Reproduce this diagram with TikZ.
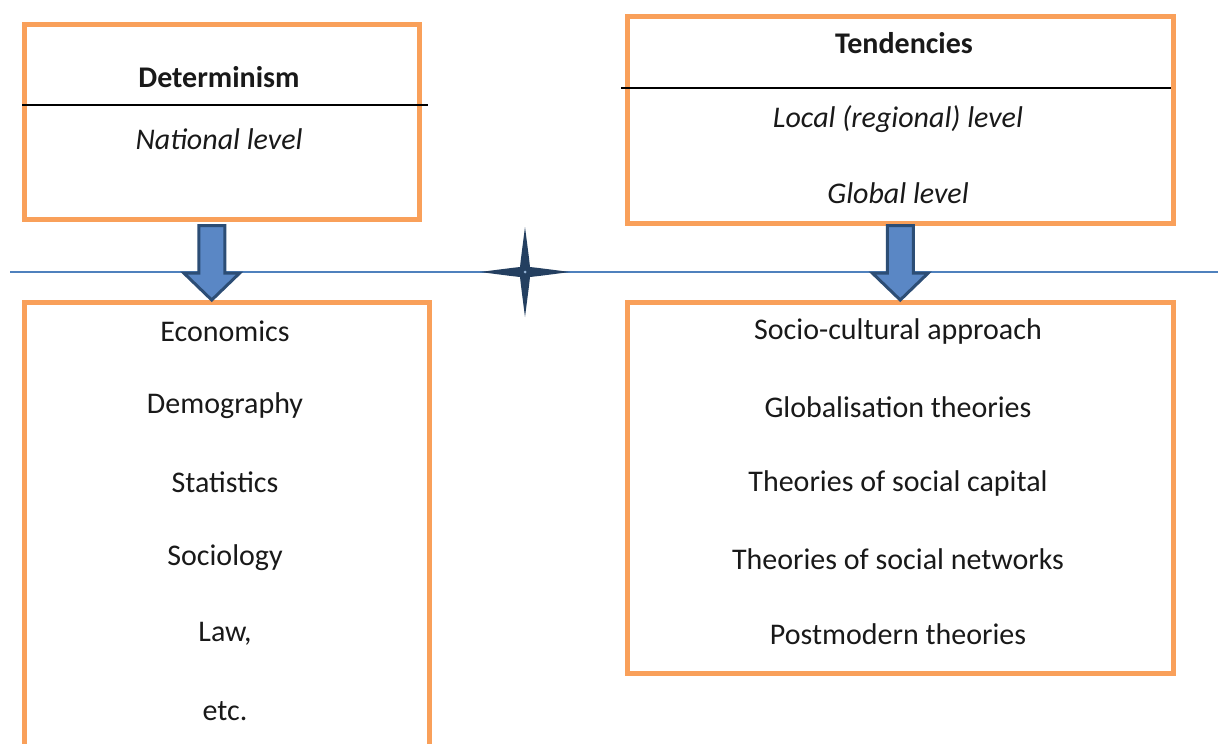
\documentclass[tikz,border=0pt]{standalone}
\usepackage{fontspec}
\setmainfont{Carlito}
\usepackage{xcolor}
\usetikzlibrary{calc}

\definecolor{boxorange}{HTML}{F9A05A}
\definecolor{arrowfill}{HTML}{5A87C5}
\definecolor{arrowedge}{HTML}{2C4D75}
\definecolor{lineblue}{HTML}{4F81BD}
\definecolor{starblue}{HTML}{243F60}

% block arrow pointing down, from #1 (top) to #2 (tip)
\newcommand{\downblock}[2]{%
  \draw[blockarrow] ($(#1)+(-13,0)$) -- ($(#2)+(-13,-27)$) -- ($(#2)+(-28,-27)$)
    -- (#2) -- ($(#2)+(28,-27)$) -- ($(#2)+(13,-27)$) -- ($(#1)+(13,0)$) -- cycle;}

\begin{document}
\begin{tikzpicture}[x=1pt,y=-1pt,
    frame/.style={draw=boxorange, line width=4.5pt, inner sep=0, anchor=north west},
    txt/.style={font=\fontsize{30}{36}\selectfont, inner sep=0, text=black!90},
    blockarrow/.style={fill=arrowfill, draw=arrowedge, line width=3pt, line join=miter}]
  \clip (0,0) rectangle (1218,744);

  % separating line
  \coordinate (lineL) at (10,272);
  \coordinate (lineR) at (1218,272);
  \draw[lineblue, line width=1.5pt] (lineL) -- (lineR);

  % upper boxes
  \node[frame, minimum width=395, minimum height=195] (det) at (22,22) {};
  \node[frame, minimum width=546, minimum height=207] (tend) at (625,14) {};
  \coordinate (detcutL) at (22,105);
  \coordinate (detcutR) at (428,105);
  \draw[line width=1.5pt] (detcutL) -- (detcutR);
  \coordinate (tendcutL) at (621,88);
  \coordinate (tendcutR) at (1171,88);
  \draw[line width=1.5pt] (tendcutL) -- (tendcutR);

  \node[txt, font=\fontsize{30}{36}\selectfont\bfseries] (detT) at (219,77) {Determinism};
  \node[txt, font=\fontsize{30}{36}\selectfont\itshape] (detL) at (219,139) {National level};
  \node[txt, font=\fontsize{30}{36}\selectfont\bfseries] (tendT) at (904,43) {Tendencies};
  \node[txt, font=\fontsize{30}{36}\selectfont\itshape] (tendL) at (898,119) {Local (regional) level};
  \node[txt, font=\fontsize{30}{36}\selectfont\itshape] (tendG) at (898,193) {Global level};

  % lower boxes
  \node[frame, minimum width=405, minimum height=470] (disc) at (22,300) {};
  \node[frame, minimum width=546, minimum height=371] (theo) at (625,300) {};

  \node[txt] (d1) at (225,331) {Economics};
  \node[txt] (d2) at (225,406) {Demography};
  \node[txt] (d3) at (225,482) {Statistics};
  \node[txt] (d4) at (225,558) {Sociology};
  \node[txt] (d5) at (225,634) {Law,};
  \node[txt] (d6) at (225,711) {etc.};

  \node[txt] (t1) at (898,331) {Socio-cultural approach};
  \node[txt] (t2) at (898,407) {Globalisation theories};
  \node[txt] (t3) at (898,483) {Theories of social capital};
  \node[txt] (t4) at (898,559) {Theories of social networks};
  \node[txt] (t5) at (898,634) {Postmodern theories};

  % arrows
  \coordinate (ltop) at ($(det.south)+(-10,4)$);
  \coordinate (ltip) at (ltop |- disc.north);
  \downblock{ltop}{ltip}
  \coordinate (rtop) at ($(tend.south)+(0,0)$);
  \coordinate (rtip) at (rtop |- theo.north);
  \downblock{rtop}{rtip}

  % star on the line
  \coordinate (star) at (525,272);
  \begin{scope}[shift={(star)}]
    \fill[starblue] (45,0) .. controls (14,4) .. (5,5) .. controls (4,14) .. (0,45)
      .. controls (-4,14) .. (-5,5) .. controls (-14,4) .. (-45,0)
      .. controls (-14,-4) .. (-5,-5) .. controls (-4,-14) .. (0,-45)
      .. controls (4,-14) .. (5,-5) .. controls (14,-4) .. (45,0) -- cycle;
    \fill[lineblue!60] (0,0) circle (1.5);
  \end{scope}
\end{tikzpicture}
\end{document}
